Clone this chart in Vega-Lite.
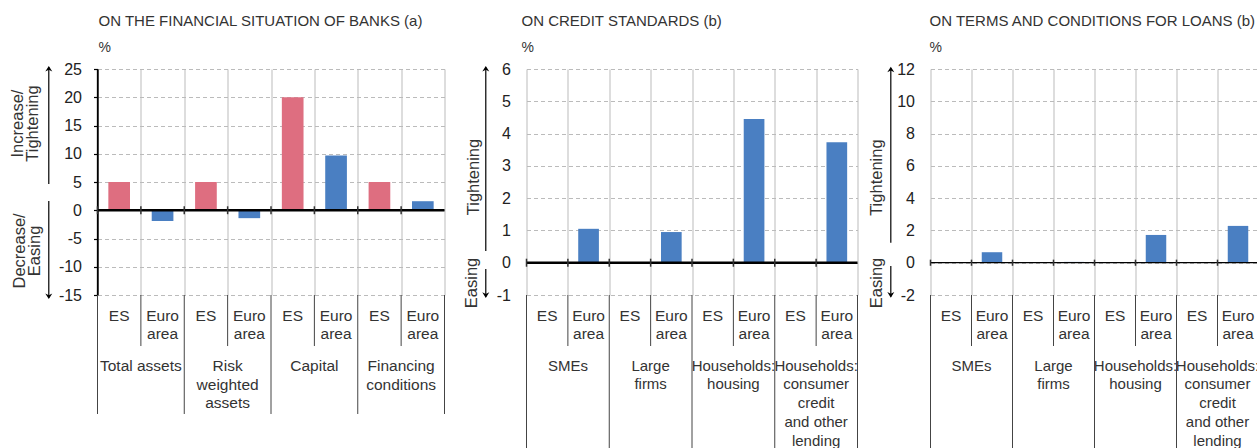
{
  "$schema": "https://vega.github.io/schema/vega-lite/v6.json",
  "background": "white",
  "padding": {"left": 9.5, "top": 14, "right": 0, "bottom": 0},
  "config": {
    "font": "Liberation Sans",
    "view": {"stroke": null},
    "title": {"fontSize": 15, "fontWeight": "normal", "color": "#333", "anchor": "start", "frame": "group", "subtitleFontSize": 14, "subtitleColor": "#333", "subtitlePadding": 12, "offset": 6},
    "axis": {"labelOverlap": false, "labelBound": false},
    "text": {"color": "#333"}
  },
  "bounds": "flush",
  "spacing": 82,
  "hconcat": [
    {
      "width": 347,
      "height": 226,
      "title": {"text": "ON THE FINANCIAL SITUATION OF BANKS (a)", "subtitle": "%", "dx": 1},
      "data": {"values": [
        {"cat": "TA|ES", "group": "Total assets", "region": "ES", "value": 5},
        {"cat": "TA|EA", "group": "Total assets", "region": "Euro area", "value": -1.9},
        {"cat": "RWA|ES", "group": "Risk\nweighted\nassets", "region": "ES", "value": 5},
        {"cat": "RWA|EA", "group": "Risk\nweighted\nassets", "region": "Euro area", "value": -1.4},
        {"cat": "CAP|ES", "group": "Capital", "region": "ES", "value": 20},
        {"cat": "CAP|EA", "group": "Capital", "region": "Euro area", "value": 9.7},
        {"cat": "FC|ES", "group": "Financing\nconditions", "region": "ES", "value": 5},
        {"cat": "FC|EA", "group": "Financing\nconditions", "region": "Euro area", "value": 1.6}
      ]},
      "resolve": {"scale": {"x": "independent"}},
      "layer": [
        {
          "layer": [
            {
              "mark": {"type": "bar", "width": {"band": 0.5}},
              "encoding": {
                "x": {"field": "cat", "type": "nominal", "scale": {"domain": ["TA|ES", "TA|EA", "RWA|ES", "RWA|EA", "CAP|ES", "CAP|EA", "FC|ES", "FC|EA"], "paddingInner": 0, "paddingOuter": 0}, "axis": {"grid": true, "tickBand": "extent", "gridColor": "#c6c6c6", "gridWidth": 1.2, "labels": false, "ticks": false, "domain": false, "title": null}},
                "y": {"field": "value", "type": "quantitative", "scale": {"domain": [-15, 25], "nice": false, "zero": false}, "axis": {"values": [-15, -10, -5, 0, 5, 10, 15, 20, 25], "tickCount": 9, "labelOverlap": false, "labelExpr": "toString(datum.value)", "title": null, "grid": true, "gridColor": "#bbbbbb", "gridDash": [4, 3], "domain": true, "domainColor": "#000", "domainWidth": 1.3, "ticks": true, "tickColor": "#000", "tickSize": 4, "tickWidth": 1.2, "labelFontSize": 16, "labelColor": "#222", "labelPadding": 12}},
                "color": {"field": "region", "type": "nominal", "scale": {"domain": ["ES", "Euro area"], "range": ["#de6e80", "#4a7fc2"]}, "legend": null}
              }
            },
            {"transform": [{"filter": "datum.cat === 'TA|ES'"}], "mark": {"type": "rule", "color": "#000", "strokeWidth": 1.3}, "encoding": {"x": {"field": "cat", "type": "nominal", "bandPosition": 0}}},
            {"data": {"values": [{}]}, "mark": {"type": "rule", "color": "#000", "strokeWidth": 2.5}, "encoding": {"y": {"datum": 0}}},
            {"mark": {"type": "rule", "color": "#333", "strokeWidth": 1.5}, "encoding": {"x": {"field": "cat", "type": "nominal", "bandPosition": 0}, "y": {"datum": 0.7}, "y2": {"datum": -0.7}}},
            {"mark": {"type": "text", "baseline": "alphabetic", "align": "center", "lineBreak": " ", "fontSize": 15.5, "lineHeight": 18.5}, "encoding": {"x": {"field": "cat", "type": "nominal"}, "y": {"datum": -19.6}, "text": {"field": "region"}}},
            {"transform": [{"filter": "datum.region === 'Euro area'"}], "mark": {"type": "text", "baseline": "alphabetic", "align": "center", "lineBreak": "\n", "fontSize": 15.5, "lineHeight": 18.8}, "encoding": {"x": {"field": "cat", "type": "nominal", "bandPosition": 0}, "y": {"datum": -28.4}, "text": {"field": "group"}}},
            {"transform": [{"filter": "datum.region === 'Euro area'"}], "mark": {"type": "rule", "color": "#444", "strokeWidth": 1}, "encoding": {"x": {"field": "cat", "type": "nominal", "bandPosition": 0}, "y": {"datum": -15}, "y2": {"datum": -24.03}}},
            {"transform": [{"filter": "datum.region === 'ES'"}], "mark": {"type": "rule", "color": "#444", "strokeWidth": 1}, "encoding": {"x": {"field": "cat", "type": "nominal", "bandPosition": 0}, "y": {"datum": -15}, "y2": {"datum": -36.06}}},
            {"transform": [{"filter": "datum.cat === 'FC|EA'"}], "mark": {"type": "rule", "color": "#444", "strokeWidth": 1}, "encoding": {"x": {"field": "cat", "type": "nominal", "bandPosition": 1}, "y": {"datum": -15}, "y2": {"datum": -36.06}}}
          ]
        },
        {
          "data": {"values": [{}]},
          "layer": [
            {"mark": {"type": "rule", "color": "#000", "strokeWidth": 1.2}, "encoding": {"x": {"datum": -1.123, "type": "quantitative", "scale": {"domain": [0, 8]}, "axis": null}, "y": {"datum": 4.65}, "y2": {"datum": 25.3}}},
            {"mark": {"type": "point", "shape": "M-1,1.6L0,0L1,1.6L0,1.1Z", "filled": true, "color": "#000", "opacity": 1, "size": 49}, "encoding": {"x": {"datum": -1.123, "type": "quantitative"}, "y": {"datum": 25.53}}},
            {"mark": {"type": "rule", "color": "#000", "strokeWidth": 1.2}, "encoding": {"x": {"datum": -1.123, "type": "quantitative"}, "y": {"datum": 1.64}, "y2": {"datum": -15.5}}},
            {"mark": {"type": "point", "shape": "M-1,-1.6L0,0L1,-1.6L0,-1.1Z", "filled": true, "color": "#000", "opacity": 1, "size": 49}, "encoding": {"x": {"datum": -1.123, "type": "quantitative"}, "y": {"datum": -15.71}}},
            {"mark": {"type": "text", "angle": 270, "align": "center", "baseline": "middle", "lineBreak": "\n", "fontSize": 16.5, "lineHeight": 15, "text": "Increase/\nTightening"}, "encoding": {"x": {"datum": -1.838, "type": "quantitative"}, "y": {"datum": 15.35}}},
            {"mark": {"type": "text", "angle": 270, "align": "center", "baseline": "middle", "lineBreak": "\n", "fontSize": 16.5, "lineHeight": 15, "text": "Decrease/\nEasing"}, "encoding": {"x": {"datum": -1.791, "type": "quantitative"}, "y": {"datum": -7.2}}}
          ]
        }
      ]
    },
    {
      "bounds": "flush",
      "spacing": 73,
      "hconcat": [
        {
          "width": 331,
          "height": 226,
          "title": {"text": "ON CREDIT STANDARDS (b)", "subtitle": "%", "dx": -5},
          "data": {"values": [
            {"cat": "SME|ES", "group": "SMEs", "region": "ES", "value": 0},
            {"cat": "SME|EA", "group": "SMEs", "region": "Euro area", "value": 1.05},
            {"cat": "LF|ES", "group": "Large\nfirms", "region": "ES", "value": 0},
            {"cat": "LF|EA", "group": "Large\nfirms", "region": "Euro area", "value": 0.95},
            {"cat": "HH|ES", "group": "Households:\nhousing", "region": "ES", "value": 0},
            {"cat": "HH|EA", "group": "Households:\nhousing", "region": "Euro area", "value": 4.45},
            {"cat": "HC|ES", "group": "Households:\nconsumer\ncredit\nand other\nlending", "region": "ES", "value": 0},
            {"cat": "HC|EA", "group": "Households:\nconsumer\ncredit\nand other\nlending", "region": "Euro area", "value": 3.73}
          ]},
          "resolve": {"scale": {"x": "independent"}},
          "layer": [
            {
              "layer": [
                {
                  "mark": {"type": "bar", "width": {"band": 0.5}},
                  "encoding": {
                    "x": {"field": "cat", "type": "nominal", "scale": {"domain": ["SME|ES", "SME|EA", "LF|ES", "LF|EA", "HH|ES", "HH|EA", "HC|ES", "HC|EA"], "paddingInner": 0, "paddingOuter": 0}, "axis": {"grid": true, "tickBand": "extent", "gridColor": "#c6c6c6", "gridWidth": 1.2, "labels": false, "ticks": false, "domain": false, "title": null}},
                    "y": {"field": "value", "type": "quantitative", "scale": {"domain": [-1, 6], "nice": false, "zero": false}, "axis": {"values": [-1, 0, 1, 2, 3, 4, 5, 6], "tickCount": 8, "labelOverlap": false, "labelExpr": "toString(datum.value)", "title": null, "grid": true, "gridColor": "#bbbbbb", "gridDash": [4, 3], "domain": false, "ticks": false, "tickSize": 0, "labelFontSize": 16, "labelColor": "#222", "labelPadding": 16}},
                    "color": {"field": "region", "type": "nominal", "scale": {"domain": ["ES", "Euro area"], "range": ["#de6e80", "#4a7fc2"]}, "legend": null}
                  }
                },
                {"data": {"values": [{}]}, "mark": {"type": "rule", "color": "#000", "strokeWidth": 2.5}, "encoding": {"y": {"datum": 0}}},
                {"mark": {"type": "rule", "color": "#333", "strokeWidth": 1.5}, "encoding": {"x": {"field": "cat", "type": "nominal", "bandPosition": 0}, "y": {"datum": 0.124}, "y2": {"datum": -0.124}}},
                {"mark": {"type": "text", "baseline": "alphabetic", "align": "center", "lineBreak": " ", "fontSize": 15.5, "lineHeight": 18.5}, "encoding": {"x": {"field": "cat", "type": "nominal"}, "y": {"datum": -1.8}, "text": {"field": "region"}}},
                {"transform": [{"filter": "datum.region === 'Euro area'"}], "mark": {"type": "text", "baseline": "alphabetic", "align": "center", "lineBreak": "\n", "fontSize": 15, "lineHeight": 18.8}, "encoding": {"x": {"field": "cat", "type": "nominal", "bandPosition": 0}, "y": {"datum": -3.34}, "text": {"field": "group"}}},
                {"transform": [{"filter": "datum.region === 'Euro area'"}], "mark": {"type": "rule", "color": "#444", "strokeWidth": 1}, "encoding": {"x": {"field": "cat", "type": "nominal", "bandPosition": 0}, "y": {"datum": -1}, "y2": {"datum": -2.58}}},
                {"transform": [{"filter": "datum.region === 'ES'"}], "mark": {"type": "rule", "color": "#444", "strokeWidth": 1}, "encoding": {"x": {"field": "cat", "type": "nominal", "bandPosition": 0}, "y": {"datum": -1}, "y2": {"datum": -5.77}}},
                {"transform": [{"filter": "datum.cat === 'HC|EA'"}], "mark": {"type": "rule", "color": "#444", "strokeWidth": 1}, "encoding": {"x": {"field": "cat", "type": "nominal", "bandPosition": 1}, "y": {"datum": -1}, "y2": {"datum": -5.77}}}
              ]
            },
            {
              "data": {"values": [{}]},
              "layer": [
                {"mark": {"type": "rule", "color": "#000", "strokeWidth": 1.2}, "encoding": {"x": {"datum": -0.984, "type": "quantitative", "scale": {"domain": [0, 8]}, "axis": null}, "y": {"datum": 0.364}, "y2": {"datum": 6.05}}},
                {"mark": {"type": "point", "shape": "M-1,1.6L0,0L1,1.6L0,1.1Z", "filled": true, "color": "#000", "opacity": 1, "size": 49}, "encoding": {"x": {"datum": -0.984, "type": "quantitative"}, "y": {"datum": 6.093}}},
                {"mark": {"type": "rule", "color": "#000", "strokeWidth": 1.2}, "encoding": {"x": {"datum": -0.984, "type": "quantitative"}, "y": {"datum": -0.194}, "y2": {"datum": -1.05}}},
                {"mark": {"type": "point", "shape": "M-1,-1.6L0,0L1,-1.6L0,-1.1Z", "filled": true, "color": "#000", "opacity": 1, "size": 49}, "encoding": {"x": {"datum": -0.984, "type": "quantitative"}, "y": {"datum": -1.092}}},
                {"mark": {"type": "text", "angle": 270, "align": "center", "baseline": "middle", "fontSize": 16.5, "text": "Tightening"}, "encoding": {"x": {"datum": -1.274, "type": "quantitative"}, "y": {"datum": 2.655}}},
                {"mark": {"type": "text", "angle": 270, "align": "center", "baseline": "middle", "fontSize": 16.5, "text": "Easing"}, "encoding": {"x": {"datum": -1.329, "type": "quantitative"}, "y": {"datum": -0.627}}}
              ]
            }
          ]
        },
        {
          "width": 328,
          "height": 226,
          "title": {"text": "ON TERMS AND CONDITIONS FOR LOANS (b)", "subtitle": "%", "dx": -1},
          "data": {"values": [
            {"cat": "SME|ES", "group": "SMEs", "region": "ES", "value": 0},
            {"cat": "SME|EA", "group": "SMEs", "region": "Euro area", "value": 0.65},
            {"cat": "LF|ES", "group": "Large\nfirms", "region": "ES", "value": 0},
            {"cat": "LF|EA", "group": "Large\nfirms", "region": "Euro area", "value": 0.05},
            {"cat": "HH|ES", "group": "Households:\nhousing", "region": "ES", "value": 0},
            {"cat": "HH|EA", "group": "Households:\nhousing", "region": "Euro area", "value": 1.72},
            {"cat": "HC|ES", "group": "Households:\nconsumer\ncredit\nand other\nlending", "region": "ES", "value": 0},
            {"cat": "HC|EA", "group": "Households:\nconsumer\ncredit\nand other\nlending", "region": "Euro area", "value": 2.28}
          ]},
          "resolve": {"scale": {"x": "independent"}},
          "layer": [
            {
              "layer": [
                {
                  "mark": {"type": "bar", "width": {"band": 0.5}},
                  "encoding": {
                    "x": {"field": "cat", "type": "nominal", "scale": {"domain": ["SME|ES", "SME|EA", "LF|ES", "LF|EA", "HH|ES", "HH|EA", "HC|ES", "HC|EA"], "paddingInner": 0, "paddingOuter": 0}, "axis": {"grid": true, "tickBand": "extent", "gridColor": "#c6c6c6", "gridWidth": 1.2, "labels": false, "ticks": false, "domain": false, "title": null}},
                    "y": {"field": "value", "type": "quantitative", "scale": {"domain": [-2, 12], "nice": false, "zero": false}, "axis": {"values": [-2, 0, 2, 4, 6, 8, 10, 12], "tickCount": 8, "labelOverlap": false, "labelExpr": "toString(datum.value)", "title": null, "grid": true, "gridColor": "#bbbbbb", "gridDash": [4, 3], "domain": false, "ticks": false, "tickSize": 0, "labelFontSize": 16, "labelColor": "#222", "labelPadding": 16}},
                    "color": {"field": "region", "type": "nominal", "scale": {"domain": ["ES", "Euro area"], "range": ["#de6e80", "#4a7fc2"]}, "legend": null}
                  }
                },
                {"data": {"values": [{}]}, "mark": {"type": "rule", "color": "#000", "strokeWidth": 1.2}, "encoding": {"y": {"datum": 0}}},
                {"mark": {"type": "rule", "color": "#333", "strokeWidth": 1.5}, "encoding": {"x": {"field": "cat", "type": "nominal", "bandPosition": 0}, "y": {"datum": 0.19}, "y2": {"datum": -0.19}}},
                {"mark": {"type": "text", "baseline": "alphabetic", "align": "center", "lineBreak": " ", "fontSize": 15.5, "lineHeight": 18.5}, "encoding": {"x": {"field": "cat", "type": "nominal"}, "y": {"datum": -3.6}, "text": {"field": "region"}}},
                {"transform": [{"filter": "datum.region === 'Euro area'"}], "mark": {"type": "text", "baseline": "alphabetic", "align": "center", "lineBreak": "\n", "fontSize": 15, "lineHeight": 18.8}, "encoding": {"x": {"field": "cat", "type": "nominal", "bandPosition": 0}, "y": {"datum": -6.68}, "text": {"field": "group"}}},
                {"transform": [{"filter": "datum.region === 'Euro area'"}], "mark": {"type": "rule", "color": "#444", "strokeWidth": 1}, "encoding": {"x": {"field": "cat", "type": "nominal", "bandPosition": 0}, "y": {"datum": -2}, "y2": {"datum": -5.16}}},
                {"transform": [{"filter": "datum.region === 'ES'"}], "mark": {"type": "rule", "color": "#444", "strokeWidth": 1}, "encoding": {"x": {"field": "cat", "type": "nominal", "bandPosition": 0}, "y": {"datum": -2}, "y2": {"datum": -11.54}}}
              ]
            },
            {
              "data": {"values": [{}]},
              "layer": [
                {"mark": {"type": "rule", "color": "#000", "strokeWidth": 1.2}, "encoding": {"x": {"datum": -0.968, "type": "quantitative", "scale": {"domain": [0, 8]}, "axis": null}, "y": {"datum": 1.24}, "y2": {"datum": 12.05}}},
                {"mark": {"type": "point", "shape": "M-1,1.6L0,0L1,1.6L0,1.1Z", "filled": true, "color": "#000", "opacity": 1, "size": 49}, "encoding": {"x": {"datum": -0.968, "type": "quantitative"}, "y": {"datum": 12.14}}},
                {"mark": {"type": "rule", "color": "#000", "strokeWidth": 1.2}, "encoding": {"x": {"datum": -0.968, "type": "quantitative"}, "y": {"datum": -0.204}, "y2": {"datum": -2.1}}},
                {"mark": {"type": "point", "shape": "M-1,-1.6L0,0L1,-1.6L0,-1.1Z", "filled": true, "color": "#000", "opacity": 1, "size": 49}, "encoding": {"x": {"datum": -0.968, "type": "quantitative"}, "y": {"datum": -2.167}}},
                {"mark": {"type": "text", "angle": 270, "align": "center", "baseline": "middle", "fontSize": 16.5, "text": "Tightening"}, "encoding": {"x": {"datum": -1.293, "type": "quantitative"}, "y": {"datum": 5.27}}},
                {"mark": {"type": "text", "angle": 270, "align": "center", "baseline": "middle", "fontSize": 16.5, "text": "Easing"}, "encoding": {"x": {"datum": -1.317, "type": "quantitative"}, "y": {"datum": -1.256}}}
              ]
            }
          ]
        }
      ]
    }
  ]
}
